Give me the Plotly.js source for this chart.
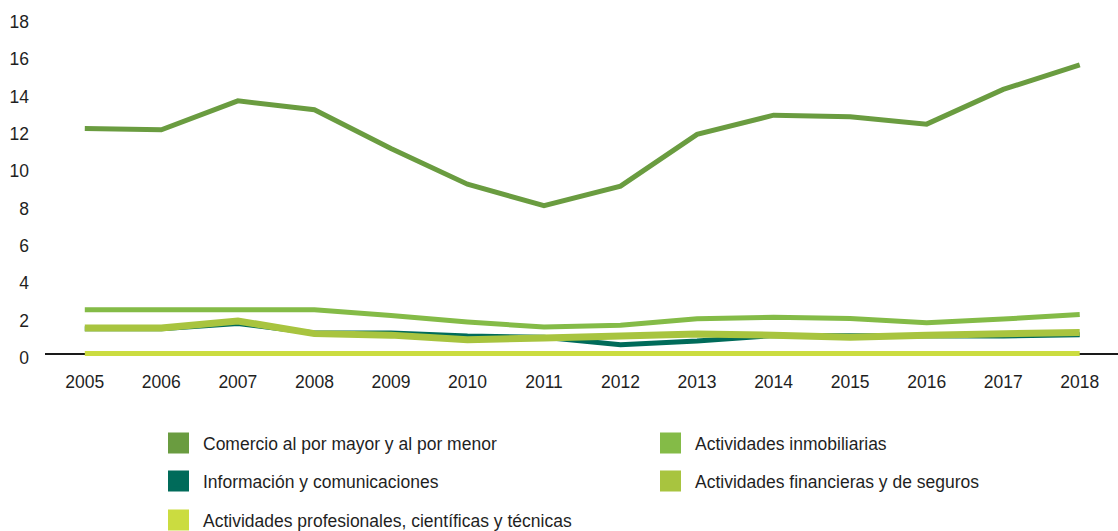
<!DOCTYPE html>
<html>
<head>
<meta charset="utf-8">
<script src="https://cdn.plot.ly/plotly-3.0.1.min.js"></script>
<style>
  html, body { margin: 0; padding: 0; background: #fff; }
  #chart { width: 1118px; height: 531px; }
</style>
</head>
<body>
<div id="chart"></div>
<script>
// Años
const years = ['2005', '2006', '2007', '2008', '2009', '2010', '2011', '2012', '2013', '2014', '2015', '2016', '2017', '2018'];

// Series
const comercio = [12.07, 12.0, 13.55, 13.07, 11.0, 9.08, 7.94, 8.98, 11.75, 12.78, 12.69, 12.3, 14.16, 15.48];
const inmobiliarias = [2.36, 2.36, 2.36, 2.36, 2.05, 1.7, 1.43, 1.53, 1.88, 1.96, 1.89, 1.66, 1.86, 2.1];
const informacion = [1.34, 1.34, 1.62, 1.12, 1.12, 0.95, 0.88, 0.48, 0.68, 0.98, 0.96, 0.94, 0.95, 1.02];
const financieras = [1.38, 1.38, 1.76, 1.08, 1.0, 0.75, 0.85, 0.98, 1.06, 1.0, 0.88, 1.0, 1.05, 1.14];
const profesionales = [0.02, 0.02, 0.02, 0.02, 0.02, 0.02, 0.02, 0.02, 0.02, 0.02, 0.02, 0.02, 0.02, 0.02];

const names = [
  'Comercio al por mayor y al por menor',
  'Actividades inmobiliarias',
  'Información y comunicaciones',
  'Actividades financieras y de seguros',
  'Actividades profesionales, científicas y técnicas'
];
const colors = ['#6a9c40', '#84bb47', '#006b5a', '#a8c43f', '#cbdc40'];
const widths = [5, 5, 5, 7, 5];
const series = [comercio, inmobiliarias, informacion, financieras, profesionales];

const yTicks = [0, 2, 4, 6, 8, 10, 12, 14, 16, 18];

// posición de cada entrada de la leyenda (px del contenedor)
const legendX = [154, 646, 154, 646, 154];
const legendY = [443, 443, 481, 481, 520];
const legendIds = ['legend', 'legend2', 'legend3', 'legend4', 'legend5'];

const data = [];
// líneas
[4, 2, 3, 1, 0].forEach(i => {
  data.push({
    x: years,
    y: series[i],
    type: 'scatter',
    mode: 'lines',
    name: names[i],
    showlegend: false,
    line: { color: colors[i], width: widths[i] },
    hoverinfo: 'x+y+name'
  });
});
// entradas de la leyenda con cuadrado
names.forEach((n, i) => {
  data.push({
    x: [null],
    y: [null],
    type: 'scatter',
    mode: 'markers',
    name: n,
    legend: legendIds[i],
    marker: { symbol: 'square', size: 16, color: colors[i], line: { color: colors[i], width: 5 } },
    hoverinfo: 'skip'
  });
});

const layout = {
  width: 1118,
  height: 531,
  margin: { l: 45, r: 0, t: 14, b: 166, autoexpand: false },
  paper_bgcolor: '#ffffff',
  plot_bgcolor: '#ffffff',
  font: { family: 'Liberation Sans, Arial, sans-serif', size: 17.5, color: '#1f1f1f' },
  showlegend: true,
  xaxis: {
    type: 'category',
    range: [-0.52, 13.5],
    showgrid: false,
    zeroline: false,
    showline: false,
    ticks: '',
    ticklabelstandoff: 4,
    tickfont: { size: 17.5, color: '#1f1f1f' },
    fixedrange: true
  },
  yaxis: {
    range: [-0.6, 18.2],
    tickvals: yTicks,
    ticktext: yTicks.map(String),
    showgrid: false,
    zeroline: true,
    zerolinecolor: '#1a1a1a',
    zerolinewidth: 2,
    showline: false,
    ticks: '',
    ticklabelstandoff: 15,
    ticklabelshift: 4,
    tickfont: { size: 17.5, color: '#1f1f1f' },
    fixedrange: true
  }
};

legendIds.forEach((id, i) => {
  layout[id] = {
    orientation: 'h',
    xref: 'container',
    yref: 'container',
    x: legendX[i] / 1118,
    xanchor: 'left',
    y: 1 - legendY[i] / 531,
    yanchor: 'middle',
    itemwidth: 39,
    itemclick: false,
    itemdoubleclick: false,
    bgcolor: 'rgba(0,0,0,0)',
    borderwidth: 0,
    font: { size: 17.5, color: '#1f1f1f' }
  };
});

Plotly.newPlot('chart', data, layout, { displayModeBar: false, staticPlot: true });
</script>
</body>
</html>
